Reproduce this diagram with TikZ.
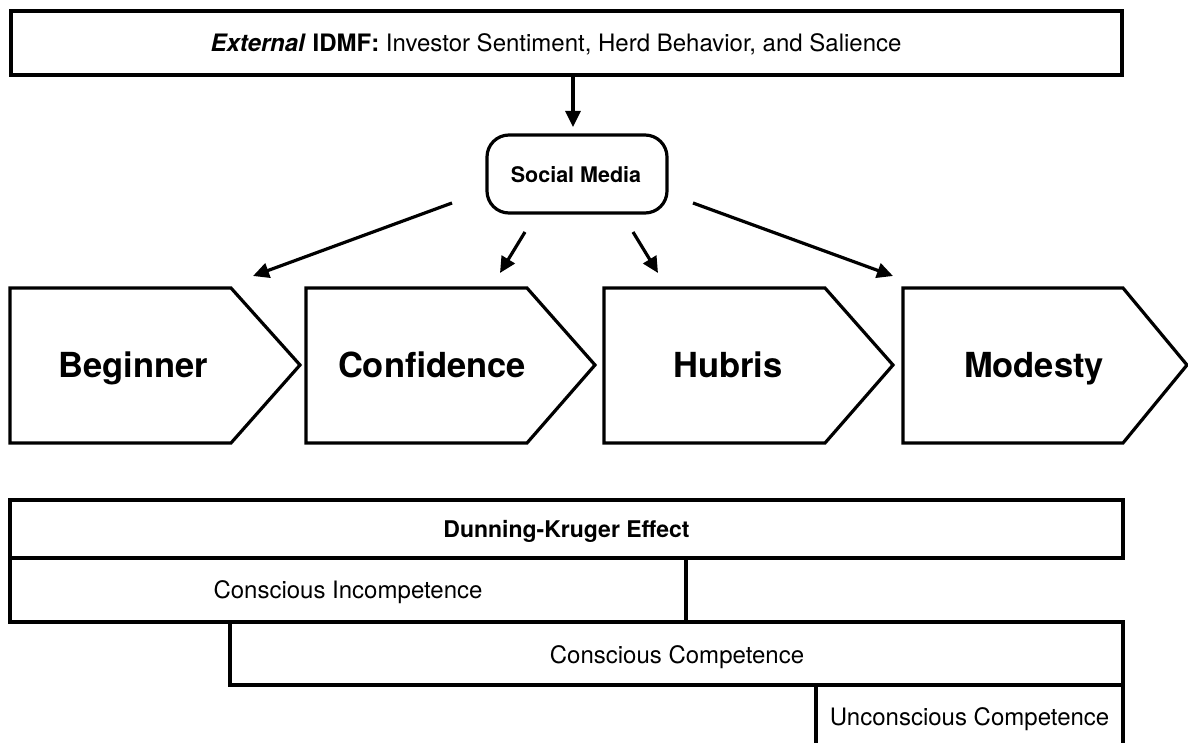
\documentclass[tikz,border=0pt]{standalone}
\usepackage{fontspec}
\setmainfont{TeX Gyre Heros}
\usetikzlibrary{arrows.meta}
\begin{document}
\begin{tikzpicture}[x=1pt,y=-1pt,
  lw/.style={line width=3.2pt},
  boxs/.style={draw=black, lw, inner sep=0pt, outer sep=0pt},
  arr/.style={lw, -{Triangle[length=16pt,width=15pt]}},
  chev/.style={draw=black, lw, line join=miter},
  chevtext/.style={font=\fontsize{34.5}{40}\selectfont\bfseries, inner sep=0pt, anchor=base},
  lbl/.style={font=\fontsize{24}{28}\selectfont, inner sep=0pt, anchor=base},
  blbl/.style={font=\fontsize{23}{27}\selectfont\bfseries, inner sep=0pt, anchor=base}]
\useasboundingbox (0,0) rectangle (1188,743);

% top box
\node[boxs, minimum width=1111pt, minimum height=64pt] (top) at (566.5,43) {};
\node[lbl] (toptext) at (556,51.5) {\textbf{\textit{External}} \textbf{IDMF:} Investor Sentiment, Herd Behavior, and Salience};

% social media
\node[boxs, rounded corners=22pt, minimum width=180pt, minimum height=78pt] (sm) at (577,174) {};
\node[font=\fontsize{21.5}{26}\selectfont\bfseries, inner sep=0pt, anchor=base] (smt) at (576,182.5) {Social Media};

% arrow top -> social
\coordinate (a0s) at (573,75);
\coordinate (a0e) at (573,127);
\draw[arr] (a0s) -- (a0e);

% chevrons
\draw[chev] (10,288) -- (231,288) -- (300,365) -- (231,443) -- (10,443) -- cycle;
\draw[chev] (306,288) -- (527,288) -- (595,365) -- (527,443) -- (306,443) -- cycle;
\draw[chev] (604,288) -- (825,288) -- (893,365) -- (825,443) -- (604,443) -- cycle;
\draw[chev] (903,288) -- (1123,288) -- (1187,365) -- (1123,443) -- (903,443) -- cycle;
\node[chevtext] (beg) at (133,377) {Beginner};
\node[chevtext] (con) at (432,377) {Confidence};
\node[chevtext] (hub) at (728,377) {Hubris};
\node[chevtext] (mod) at (1034,377) {Modesty};

% arrows from social media
\coordinate (s1) at (452,203);
\coordinate (e1) at (253,276);
\coordinate (s2) at (525,232);
\coordinate (e2) at (500,273);
\coordinate (s3) at (633,232);
\coordinate (e3) at (658,273);
\coordinate (s4) at (693,203);
\coordinate (e4) at (893,276);
\draw[arr] (s1) -- (e1);
\draw[arr] (s2) -- (e2);
\draw[arr] (s3) -- (e3);
\draw[arr] (s4) -- (e4);

% bottom boxes
\node[boxs, minimum width=1113pt, minimum height=58pt] (dk) at (566.5,529) {};
\node[blbl] (dkt) at (566.5,537) {Dunning-Kruger Effect};
\node[boxs, minimum width=676pt, minimum height=64pt] (ci) at (348,590) {};
\node[lbl] (cit) at (348,598.5) {Conscious Incompetence};
\node[boxs, minimum width=893pt, minimum height=63pt] (cc) at (676.5,653.5) {};
\node[lbl] (cct) at (677,663) {Conscious Competence};
\coordinate (uc1) at (816,685);
\coordinate (uc2) at (816,750);
\coordinate (uc3) at (1123,685);
\coordinate (uc4) at (1123,750);
\draw[lw] (uc1) -- (uc2);
\draw[lw] (uc3) -- (uc4);
\node[lbl] (uct) at (969.5,725) {Unconscious Competence};
\end{tikzpicture}
\end{document}
